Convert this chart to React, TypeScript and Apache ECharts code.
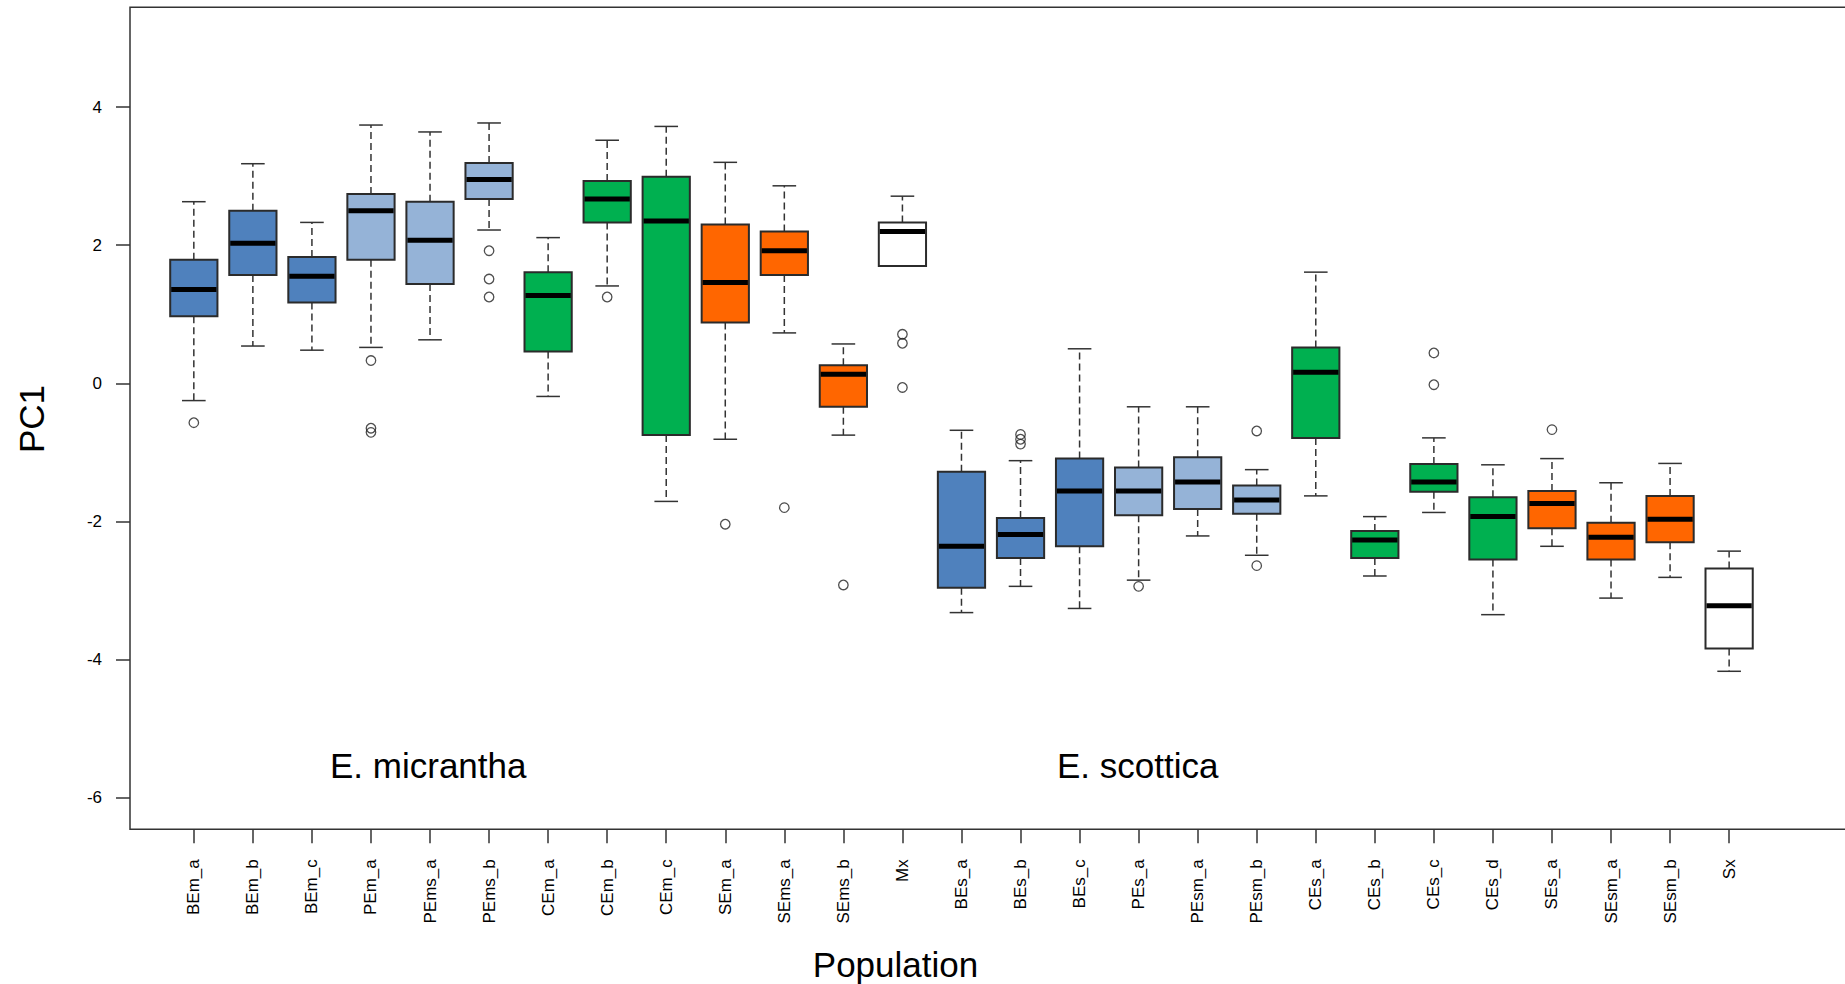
import React, { useEffect, useRef } from 'react';
import * as echarts from 'echarts';

const categories = ['BEm_a', 'BEm_b', 'BEm_c', 'PEm_a', 'PEms_a', 'PEms_b', 'CEm_a', 'CEm_b', 'CEm_c', 'SEm_a', 'SEms_a', 'SEms_b', 'Mx', 'BEs_a', 'BEs_b', 'BEs_c', 'PEs_a', 'PEsm_a', 'PEsm_b', 'CEs_a', 'CEs_b', 'CEs_c', 'CEs_d', 'SEs_a', 'SEsm_a', 'SEsm_b', 'Sx'];

const groups = ['B', 'B', 'B', 'P', 'P', 'P', 'C', 'C', 'C', 'S', 'S', 'S', 'X', 'B', 'B', 'B', 'P', 'P', 'P', 'C', 'C', 'C', 'C', 'S', 'S', 'S', 'X'];

const lowerWhisker = [-0.25, 0.54, 0.48, 0.52, 0.63, 2.22, -0.19, 1.41, -1.71, -0.81, 0.73, -0.75, 1.70, -3.32, -2.94, -3.26, -2.85, -2.21, -2.49, -1.63, -2.79, -1.87, -3.35, -2.36, -3.11, -2.81, -4.17];
const lowerQuartile = [0.97, 1.57, 1.17, 1.79, 1.44, 2.67, 0.46, 2.33, -0.75, 0.88, 1.57, -0.34, 1.70, -2.96, -2.53, -2.36, -1.91, -1.82, -1.89, -0.79, -2.53, -1.57, -2.55, -2.10, -2.55, -2.30, -3.84];
const medians = [1.36, 2.03, 1.55, 2.50, 2.07, 2.95, 1.27, 2.67, 2.35, 1.46, 1.92, 0.13, 2.20, -2.36, -2.19, -1.56, -1.56, -1.43, -1.69, 0.16, -2.27, -1.43, -1.93, -1.74, -2.23, -1.97, -3.22];
const upperQuartile = [1.79, 2.50, 1.83, 2.74, 2.63, 3.19, 1.61, 2.93, 2.99, 2.30, 2.20, 0.26, 2.33, -1.28, -1.95, -1.09, -1.22, -1.07, -1.48, 0.52, -2.14, -1.17, -1.65, -1.56, -2.02, -1.63, -2.68];
const upperWhisker = [2.63, 3.18, 2.33, 3.74, 3.64, 3.77, 2.11, 3.52, 3.72, 3.20, 2.86, 0.57, 2.71, -0.68, -1.12, 0.50, -0.34, -0.34, -1.25, 1.61, -1.93, -0.79, -1.18, -1.09, -1.44, -1.16, -2.43];

const outliers: [string, number][] = [
  ['BEm_a', -0.57], ['PEm_a', 0.33], ['PEm_a', -0.65], ['PEm_a', -0.71],
  ['PEms_b', 1.92], ['PEms_b', 1.51], ['PEms_b', 1.25], ['CEm_b', 1.25],
  ['SEm_a', -2.04], ['SEms_a', -1.80], ['SEms_b', -2.92],
  ['Mx', 0.71], ['Mx', 0.58], ['Mx', -0.06],
  ['BEs_b', -0.74], ['BEs_b', -0.81], ['BEs_b', -0.88],
  ['PEs_a', -2.94], ['PEsm_b', -0.69], ['PEsm_b', -2.64],
  ['CEs_c', 0.44], ['CEs_c', -0.02], ['SEs_a', -0.67],
];

const yTicks = [-6, -4, -2, 0, 2, 4];
const Y_MIN = -6.458;
const Y_MAX = 5.445;

const palette: Record<string, string> = {
  B: '#4F81BD',
  P: '#95B3D7',
  C: '#00B050',
  S: '#FF6600',
  X: '#FFFFFF',
};

const FONT = "'Liberation Sans', Arial, sans-serif";

export default function App() {
  const ref = useRef<HTMLDivElement>(null);

  useEffect(() => {
    if (!ref.current) return;
    const chart = echarts.init(ref.current, undefined, { renderer: 'svg' });

    const boxData = categories.map((_, i) => [
      i, lowerWhisker[i], lowerQuartile[i], medians[i], upperQuartile[i], upperWhisker[i],
    ]);
    const outlierData = outliers.map(([name, v]) => [categories.indexOf(name), v]);

    const gridTop = 7.3;
    const gridHeight = 822;

    const option: any = {
      animation: false,
      backgroundColor: '#ffffff',
      grid: [
        { left: 164.3, top: gridTop, width: 1594.35, height: gridHeight, show: false, containLabel: false, outerBoundsMode: 'none' },
        {
          left: 130, top: gridTop, width: 1760, height: gridHeight, show: true,
          borderColor: '#333', borderWidth: 1.5, backgroundColor: 'transparent', z: 0,
          containLabel: false, outerBoundsMode: 'none',
        },
      ],
      xAxis: [
        {
          type: 'category',
          gridIndex: 0,
          position: 'bottom',
          data: categories,
          boundaryGap: true,
          axisLine: { show: false, onZero: false },
          axisTick: { show: true, alignWithLabel: true, interval: 0, length: 14, lineStyle: { color: '#333', width: 1.5 } },
          axisLabel: { interval: 0, rotate: 90, margin: 30, fontSize: 17, color: '#000', fontFamily: FONT },
          splitLine: { show: false },
        },
        { type: 'value', gridIndex: 1, show: false, min: 0, max: 1 },
      ],
      yAxis: [
        { type: 'value', gridIndex: 0, min: Y_MIN, max: Y_MAX, show: false },
        {
          type: 'value', gridIndex: 1, min: Y_MIN, max: Y_MAX,
          axisLine: { show: false, onZero: false },
          axisTick: { show: true, length: 14, customValues: yTicks, lineStyle: { color: '#333', width: 1.5 } },
          axisLabel: { show: true, customValues: yTicks, margin: 28, fontSize: 17, color: '#000', fontFamily: FONT },
          splitLine: { show: false },
        },
      ],
      series: [
        {
          type: 'custom',
          xAxisIndex: 0,
          yAxisIndex: 0,
          data: boxData,
          encode: { x: 0, y: [1, 2, 3, 4, 5] },
          renderItem: (params: any, api: any) => {
            const i = api.value(0);
            const lo = api.coord([i, api.value(1)]);
            const q1 = api.coord([i, api.value(2)]);
            const md = api.coord([i, api.value(3)]);
            const q3 = api.coord([i, api.value(4)]);
            const hi = api.coord([i, api.value(5)]);
            const band = api.size([1, 0])[0];
            const bw = band * 0.8;
            const cw = bw * 0.5;
            const x = lo[0];
            const fill = palette[groups[params.dataIndex]];
            const whisk = { stroke: '#333', lineWidth: 1.5, lineDash: [7, 4] };
            const cap = { stroke: '#333', lineWidth: 1.5 };
            return {
              type: 'group',
              children: [
                { type: 'line', shape: { x1: x, y1: q3[1], x2: x, y2: hi[1] }, style: whisk },
                { type: 'line', shape: { x1: x, y1: q1[1], x2: x, y2: lo[1] }, style: whisk },
                { type: 'line', shape: { x1: x - cw / 2, y1: hi[1], x2: x + cw / 2, y2: hi[1] }, style: cap },
                { type: 'line', shape: { x1: x - cw / 2, y1: lo[1], x2: x + cw / 2, y2: lo[1] }, style: cap },
                {
                  type: 'rect',
                  shape: { x: x - bw / 2, y: q3[1], width: bw, height: q1[1] - q3[1] },
                  style: { fill, stroke: '#2b2b2b', lineWidth: 2 },
                },
                { type: 'line', shape: { x1: x - bw / 2 + 1, y1: md[1], x2: x + bw / 2 - 1, y2: md[1] }, style: { stroke: '#000', lineWidth: 5 } },
              ],
            };
          },
          z: 2,
        },
        {
          type: 'scatter',
          xAxisIndex: 0,
          yAxisIndex: 0,
          data: outlierData,
          symbol: 'circle',
          symbolSize: 9.5,
          itemStyle: { color: 'rgba(0,0,0,0)', borderColor: '#222', borderWidth: 1.3 },
          z: 3,
        },
      ],
      graphic: [
        {
          type: 'text', x: 31, y: 419, rotation: Math.PI / 2,
          style: { text: 'PC1', fontSize: 35, fontFamily: FONT, fill: '#000', align: 'center', verticalAlign: 'middle', textAlign: 'center', textVerticalAlign: 'middle' },
        },
        {
          type: 'text', x: 895.5, y: 964,
          style: { text: 'Population', fontSize: 35, fontFamily: FONT, fill: '#000', align: 'center', verticalAlign: 'middle', textAlign: 'center', textVerticalAlign: 'middle' },
        },
        {
          type: 'text', x: 330, y: 765.5,
          style: { text: 'E. micrantha', fontSize: 35, fontFamily: FONT, fill: '#000', align: 'left', verticalAlign: 'middle', textAlign: 'left', textVerticalAlign: 'middle' },
        },
        {
          type: 'text', x: 1057, y: 765.5,
          style: { text: 'E. scottica', fontSize: 35, fontFamily: FONT, fill: '#000', align: 'left', verticalAlign: 'middle', textAlign: 'left', textVerticalAlign: 'middle' },
        },
      ],
    };

    chart.setOption(option);
    return () => chart.dispose();
  }, []);

  return (
    <div
      ref={ref}
      style={{ position: 'absolute', left: 0, top: 0, width: '1845px', height: '984px', overflow: 'hidden' }}
    />
  );
}
